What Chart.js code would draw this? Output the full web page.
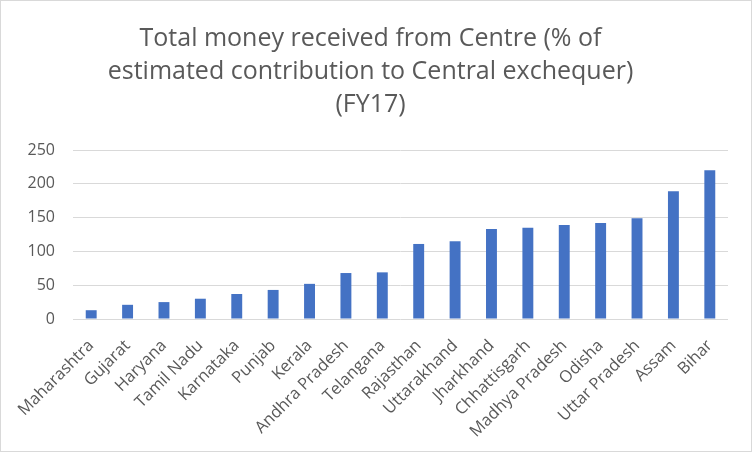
<!DOCTYPE html>
<html>
<head>
<meta charset="utf-8">
<script src="https://cdn.jsdelivr.net/npm/chart.js@4"></script>
<style>
  html, body { margin: 0; padding: 0; background: #fff; }
  #wrap { position: absolute; left: 0; top: 0; width: 750px; height: 450px; border: 1px solid #d9d9d9; }
  canvas { display: block; }
</style>
</head>
<body>
<div id="wrap"><canvas id="c" width="750" height="450"></canvas></div>
<script>
const states = ["Maharashtra","Gujarat","Haryana","Tamil Nadu","Karnataka","Punjab","Kerala","Andhra Pradesh","Telangana","Rajasthan","Uttarakhand","Jharkhand","Chhattisgarh","Madhya Pradesh","Odisha","Uttar Pradesh","Assam","Bihar"];
const receivedPct = [13, 21, 25, 30, 37, 43, 52, 68, 69, 111, 115, 133, 135, 139, 142, 149, 189, 220];
const titleLines = ["Total money received from Centre (% of", "estimated contribution to Central exchequer)", "(FY17)"];
const yTicks = [0, 50, 100, 150, 200, 250];

new Chart(document.getElementById('c'), {
  type: 'bar',
  data: {
    labels: states,
    datasets: [{
      data: receivedPct,
      backgroundColor: '#4472c4',
      barPercentage: 0.6,
      categoryPercentage: 0.5
    }]
  },
  options: {
    responsive: false,
    animation: false,
    devicePixelRatio: 1,
    layout: { padding: { left: 12, right: 23, top: 0, bottom: 0 } },
    plugins: {
      legend: { display: false },
      tooltip: { enabled: false },
      title: {
        display: true,
        text: titleLines,
        color: '#595959',
        font: { family: 'Open Sans', size: 25, weight: 'normal', lineHeight: 1.32 },
        padding: { top: 21, bottom: 29 }
      }
    },
    scales: {
      x: {
        grid: { display: false },
        border: { display: false },
        afterFit: (s) => { s.height = 132; },
        ticks: {
          color: '#595959',
          font: { family: 'Open Sans', size: 16.5 },
          maxRotation: 45, minRotation: 45,
          autoSkip: false,
          padding: 9
        }
      },
      y: {
        min: 0, max: 250,
        afterBuildTicks: (axis) => { axis.ticks = yTicks.map(v => ({ value: v })); },
        afterFit: (s) => { s.width = 60; },
        grid: { color: '#d9d9d9', lineWidth: 1, drawTicks: false },
        border: { display: false },
        ticks: {
          color: '#595959',
          font: { family: 'Open Sans', size: 16 },
          padding: 18
        }
      }
    }
  }
});
</script>
</body>
</html>
